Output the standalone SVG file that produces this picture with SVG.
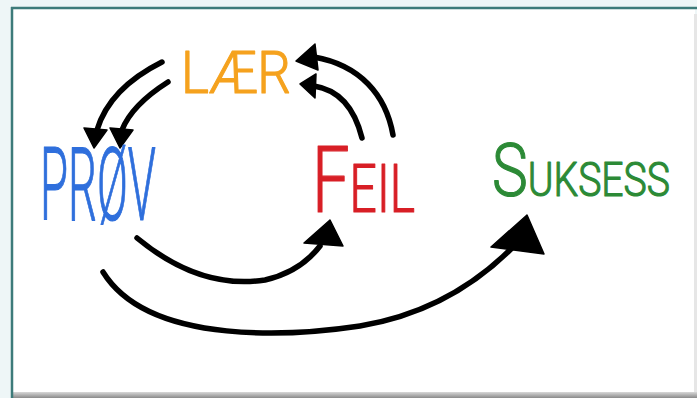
<svg xmlns="http://www.w3.org/2000/svg" width="697" height="398" viewBox="0 0 697 398">
<defs>
<linearGradient id="bot" x1="0" y1="0" x2="0" y2="1"><stop offset="0" stop-color="#d8d8d8"/><stop offset="1" stop-color="#8a8a8a"/></linearGradient>
<style>
.ln{fill:none;stroke:#000;stroke-width:5.5;stroke-linecap:round}
.hd{fill:#000;stroke:#000;stroke-width:1.5;stroke-linejoin:round}
.t{font-family:Roboto,"Liberation Sans",sans-serif;font-weight:300;stroke-width:1.2;stroke-linejoin:round}
</style>
</defs>
<rect width="697" height="398" fill="#eef6f7"/>
<rect x="12" y="8" width="683" height="386" fill="#fff"/>
<rect x="12" y="392" width="685" height="6" fill="url(#bot)"/>
<rect x="694" y="14" width="3" height="378" fill="#e6e6e6"/>
<line x1="11" y1="8" x2="697" y2="8" stroke="#3d7b7a" stroke-width="2.5"/>
<line x1="12" y1="7" x2="12" y2="398" stroke="#3d7b7a" stroke-width="2.5"/>
<g id="connectors">
<path class="ln" d="M162,62 C130,78 106,100 97,130"/>
<polygon class="hd" points="94,148 84,128 107,130"/>
<path class="ln" d="M168,82 C146,96 129,112 122,130"/>
<polygon class="hd" points="120,148 110,128 133,130"/>
<path class="ln" d="M393,135 C386,95 360,65 314,57"/>
<polygon class="hd" points="296,61 315,44 318,70"/>
<path class="ln" d="M362,138 C355,110 340,90 314,86"/>
<polygon class="hd" points="300,84 316,74 315,98"/>
<path class="ln" d="M137,238 Q200,290 265,280 Q300,272 320,246"/>
<polygon class="hd" points="330,220 304,243 343,246"/>
<path class="ln" d="M103,272 C150,348 300,335 360,326 C420,316 470,290 512,248"/>
<polygon class="hd" points="527,215 491,247 544,254"/>
</g>
<g id="laer"><text class="t" x="181" y="93" font-size="60" fill="#f5a21e" stroke="#f5a21e" textLength="110" lengthAdjust="spacingAndGlyphs">LÆR</text></g>
<g id="prov"><text class="t" x="40" y="220" font-size="102" fill="#2f6fdc" stroke="#2f6fdc" textLength="116" lengthAdjust="spacingAndGlyphs">PRØV</text></g>
<g id="feil"><text class="t" x="312" y="212" fill="#d81f26" stroke="#d81f26" textLength="103" lengthAdjust="spacingAndGlyphs"><tspan font-size="92">F</tspan><tspan font-size="66">EIL</tspan></text></g>
<g id="suksess"><text class="t" x="492" y="196" fill="#2c8a36" stroke="#2c8a36" textLength="178" lengthAdjust="spacingAndGlyphs"><tspan font-size="74">S</tspan><tspan font-size="48">UKSESS</tspan></text></g>
</svg>
